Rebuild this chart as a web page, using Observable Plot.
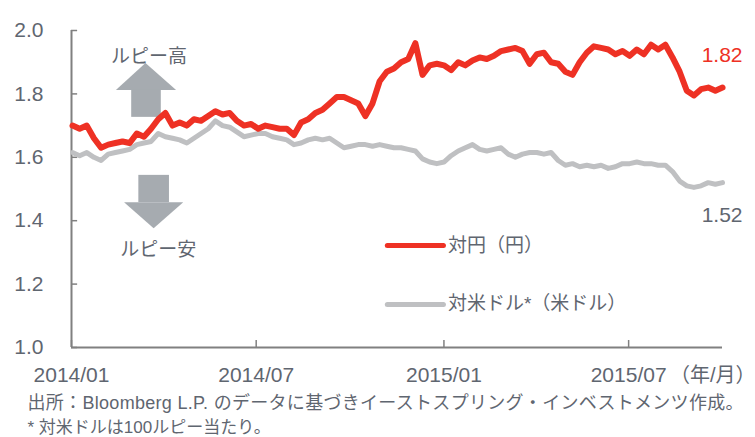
<!DOCTYPE html>
<html><head><meta charset="utf-8">
<script src="https://cdn.jsdelivr.net/npm/d3@7"></script>
<script src="https://cdn.jsdelivr.net/npm/@observablehq/plot@0.6"></script>
<style>
html,body{margin:0;padding:0;background:#fff;}
</style></head><body><div id="chart"></div>
<script>
// ---- data ----
const startDate = "2014-01-02";        // first weekly observation
const stepDays = 7;
const jpyPerRupee = [1.70,1.69,1.70,1.66,1.63,1.64,1.645,1.65,1.645,1.675,
 1.665,1.69,1.72,1.74,1.70,1.71,1.70,1.72,1.715,1.73,
 1.745,1.735,1.74,1.715,1.70,1.705,1.69,1.70,1.695,1.69,
 1.69,1.67,1.71,1.72,1.74,1.75,1.77,1.79,1.79,1.78,
 1.77,1.73,1.77,1.84,1.87,1.88,1.90,1.91,1.96,1.86,
 1.89,1.895,1.89,1.875,1.90,1.89,1.905,1.915,1.91,1.92,
 1.935,1.94,1.945,1.935,1.895,1.925,1.93,1.90,1.895,1.87,
 1.86,1.90,1.93,1.95,1.945,1.94,1.925,1.935,1.92,1.94,
 1.925,1.955,1.94,1.955,1.915,1.87,1.81,1.795,1.815,1.82,
 1.81,1.82];
const usdPer100Rupee = [1.615,1.605,1.615,1.60,1.59,1.61,1.615,1.62,1.625,1.64,
 1.645,1.65,1.675,1.665,1.66,1.655,1.645,1.66,1.675,1.69,
 1.715,1.70,1.695,1.68,1.665,1.67,1.675,1.675,1.665,1.66,
 1.655,1.64,1.645,1.655,1.66,1.655,1.66,1.645,1.63,1.635,
 1.64,1.64,1.635,1.64,1.635,1.63,1.63,1.625,1.62,1.595,
 1.585,1.58,1.585,1.605,1.62,1.63,1.64,1.625,1.62,1.625,
 1.63,1.61,1.60,1.61,1.615,1.615,1.61,1.615,1.59,1.575,
 1.58,1.57,1.575,1.57,1.575,1.565,1.57,1.58,1.58,1.585,
 1.58,1.58,1.575,1.575,1.555,1.525,1.51,1.505,1.51,1.52,
 1.515,1.52];
const seriesNames = ["対円（円）", "対米ドル*（米ドル）"];
const lastLabels = ["1.82", "1.52"];
const yTicks = [1.0, 1.2, 1.4, 1.6, 1.8, 2.0];
const xTickDates = ["2014-01-01", "2014-07-01", "2015-01-01", "2015-07-01"];
const xTickLabels = ["2014/01", "2014/07", "2015/01", "2015/07"];
const xUnitLabel = "（年/月）";
const arrowLabels = ["ルピー高", "ルピー安"];
const captions = ["出所：Bloomberg L.P. のデータに基づきイーストスプリング・インベストメンツ作成。",
                  "* 対米ドルは100ルピー当たり。"];

// ---- styling ----
const FONT = '"Liberation Sans", Arial, "Noto Sans CJK JP", sans-serif';
const TEXT = "#5f6670";
const RED = "#ee3124";
const GRAY = "#bfc0c2";
const ARROW = "#a6abb0";
const AXIS = "#808080";

const parse = d3.utcParse("%Y-%m-%d");
const t0 = parse(startDate);
const day = n => d3.utcDay.offset(parse("2014-01-01"), n);
const dates = jpyPerRupee.map((_, i) => d3.utcDay.offset(t0, i * stepDays));
const jpyData = jpyPerRupee.map((v, i) => ({date: dates[i], value: v}));
const usdData = usdPer100Rupee.map((v, i) => ({date: dates[i], value: v}));
const xTicks = xTickDates.map(parse);

// annotation shapes in data coordinates
const upHead = [{x: day(44), y1: 1.811, y2: 1.811}, {x: day(73.5), y1: 1.811, y2: 1.896}, {x: day(103), y1: 1.811, y2: 1.811}];
const upShaft = [{x1: day(59), x2: day(88), y1: 1.726, y2: 1.811}];
const downShaft = [{x1: day(66), x2: day(96), y1: 1.457, y2: 1.543}];
const downHead = [{x: day(52), y1: 1.457, y2: 1.457}, {x: day(81.4), y1: 1.457, y2: 1.375}, {x: day(110.8), y1: 1.457, y2: 1.457}];

const chart = Plot.plot({
  width: 755, height: 437,
  marginLeft: 71, marginRight: 33, marginTop: 30, marginBottom: 90,
  style: {fontFamily: FONT, fontSize: "21px", color: TEXT, background: "#fff", overflow: "visible"},
  x: {type: "utc", domain: [day(0), day(638)], axis: null},
  y: {domain: [1, 2], axis: null},
  marks: [
    // arrows
    Plot.areaY(upHead, {x: "x", y1: "y1", y2: "y2", fill: ARROW, curve: "linear"}),
    Plot.rect(upShaft, {x1: "x1", x2: "x2", y1: "y1", y2: "y2", fill: ARROW}),
    Plot.rect(downShaft, {x1: "x1", x2: "x2", y1: "y1", y2: "y2", fill: ARROW}),
    Plot.areaY(downHead, {x: "x", y1: "y1", y2: "y2", fill: ARROW, curve: "linear"}),
    Plot.text([arrowLabels[0]], {x: day(76.5), y: 1.918, text: d => d, fontSize: 19, fill: TEXT}),
    Plot.text([arrowLabels[1]], {x: day(85.3), y: 1.309, text: d => d, fontSize: 19, fill: TEXT}),
    // axes
    Plot.ruleY([1], {stroke: AXIS, strokeWidth: 2}),
    Plot.ruleX([day(0)], {stroke: AXIS, strokeWidth: 2}),
    Plot.ruleY(yTicks, {y: d => d, x1: day(0), x2: day(6), stroke: AXIS, strokeWidth: 1.5}),
    Plot.ruleX(xTicks, {x: d => d, y1: 1.0, y2: 1.022, stroke: AXIS, strokeWidth: 1.5}),
    Plot.text(yTicks, {y: d => d, text: d => d3.format(".1f")(d), frameAnchor: "left", dx: -28, textAnchor: "end", lineAnchor: "middle", fontSize: 21, fill: TEXT}),
    Plot.text(xTicks, {x: d => d, text: (d, i) => xTickLabels[i], frameAnchor: "bottom", dy: 28, lineAnchor: "middle", fontSize: 21, fill: TEXT}),
    Plot.text([xUnitLabel], {text: d => d, frameAnchor: "bottom-right", dx: 33, dy: 28, textAnchor: "end", lineAnchor: "middle", fontSize: 20, fill: TEXT}),
    // lines
    Plot.line(usdData, {x: "date", y: "value", stroke: GRAY, strokeWidth: 5}),
    Plot.line(jpyData, {x: "date", y: "value", stroke: RED, strokeWidth: 6}),
    // end labels
    Plot.text([jpyData[jpyData.length - 1]], {x: "date", y: "value", text: () => lastLabels[0], dx: 20, dy: -32, textAnchor: "end", fontSize: 21, fill: RED}),
    Plot.text([usdData[usdData.length - 1]], {x: "date", y: "value", text: () => lastLabels[1], dx: 20, dy: 33, textAnchor: "end", fontSize: 21, fill: TEXT}),
    // legend
    Plot.ruleY([1.322], {x1: day(310), x2: day(365), stroke: RED, strokeWidth: 5, strokeLinecap: "round"}),
    Plot.ruleY([1.136], {x1: day(310), x2: day(365), stroke: GRAY, strokeWidth: 5, strokeLinecap: "round"}),
    Plot.text([seriesNames[0]], {x: day(365), y: 1.322, text: d => d, dx: 4, textAnchor: "start", fontSize: 19, fill: TEXT}),
    Plot.text([seriesNames[1]], {x: day(365), y: 1.136, text: d => d, dx: 4, textAnchor: "start", fontSize: 19, fill: TEXT}),
    // captions
    Plot.text([captions[0]], {text: d => d, frameAnchor: "bottom-left", dx: -44, dy: 56, textAnchor: "start", lineAnchor: "middle", fontSize: 18, fill: TEXT}),
    Plot.text([captions[1]], {text: d => d, frameAnchor: "bottom-left", dx: -44, dy: 80, textAnchor: "start", lineAnchor: "middle", fontSize: 17, fill: TEXT})
  ]
});
d3.select(chart).selectAll("text").filter(function() { return this.textContent === captions[0]; }).attr("letter-spacing", "0.3px");
document.getElementById("chart").appendChild(chart);
</script>
</body></html>
